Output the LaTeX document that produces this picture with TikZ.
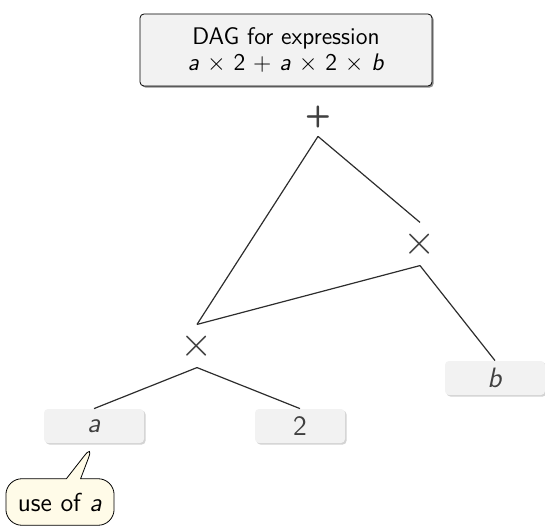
\documentclass[tikz,border=0pt]{standalone}
\usetikzlibrary{shapes.callouts,shadows}

\definecolor{boxgray}{RGB}{242,242,242}
\definecolor{notefill}{RGB}{255,251,232}
\definecolor{opgray}{RGB}{64,64,64}

\begin{document}
\sffamily
\begin{tikzpicture}
[
	x=0.5pt, y=-0.5pt,
	font=\fontsize{12}{14}\selectfont,
	titlebox/.style={draw,rounded corners=2pt,fill=boxgray,align=center,
		minimum width=146pt,minimum height=36pt,inner sep=2pt,
		drop shadow={shadow xshift=0.8pt,shadow yshift=-0.8pt,opacity=0.9}},
	opnode/.style={text=opgray,circle,inner sep=0pt,minimum size=19pt,
		font=\fontsize{22}{24}\selectfont},
	leaf/.style={fill=boxgray,rounded corners=2pt,text=opgray,
		minimum width=50pt,minimum height=17pt,font=\fontsize{14}{16}\selectfont,
		drop shadow={shadow xshift=0.8pt,shadow yshift=-0.8pt,opacity=0.35}},
	note/.style={rectangle callout,draw,fill=notefill,rounded corners=8pt,
		inner xsep=6pt,inner ysep=7pt,font=\fontsize{13}{15}\selectfont}
]
	\useasboundingbox (0,0) rectangle (545,529);

	% heading
	\node[titlebox] (title) at (286,50) {DAG for expression\\[-1pt]
		\textit{a} $\times$ 2 + \textit{a} $\times$ 2 $\times$ \textit{b}};

	% operators
	\node[opnode,font=\fontsize{15}{17}\selectfont\bfseries] (plus) at (318,117) {+};
	\node[opnode] (rmul) at (420,244) {$\times$};
	\node[opnode] (lmul) at (197,346) {$\times$};

	% operands
	\node[leaf] (a) at (94,426) {\textit{a}};
	\node[leaf,minimum width=45pt] (two) at (300,426) {2};
	\node[leaf] (b) at (495,378) {\textit{b}};

	% edges, shared subexpression a x 2
	\draw[semithick,opgray!70!black] (plus.south) -- (lmul.north);
	\draw[semithick,opgray!70!black] (plus.south) -- (rmul.north);
	\draw[semithick,opgray!70!black] (rmul.south) -- (lmul.north);
	\draw[semithick,opgray!70!black] (rmul.south) -- (b.north);
	\draw[semithick,opgray!70!black] (lmul.south) -- (a.north);
	\draw[semithick,opgray!70!black] (lmul.south) -- (two.north);

	% remark
	\node[note,callout absolute pointer={(a.south)}] (use) at (60,502)
		{use of \textit{a}};
\end{tikzpicture}
\end{document}
